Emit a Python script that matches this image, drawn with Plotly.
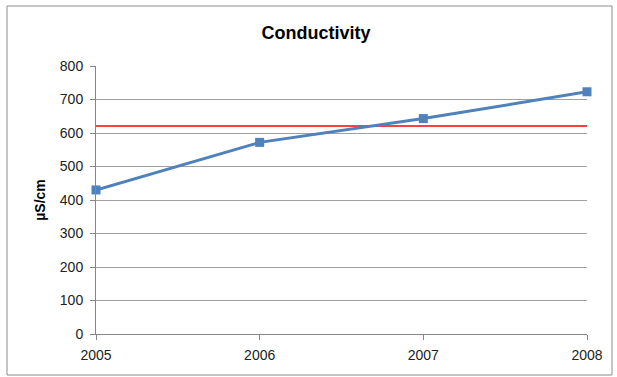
import plotly.graph_objects as go

years = [2005, 2006, 2007, 2008]
conductivity = [430, 572, 643, 723]
limit_years = [2005, 2008]
limit_values = [621, 621]
y_ticks = [0, 100, 200, 300, 400, 500, 600, 700, 800]

W, H = 617, 377
L, R, T, B = 96, 30, 66, 43
pw, ph = W - L - R, H - T - B

font = "Liberation Sans, Arial, sans-serif"

fig = go.Figure()
fig.add_trace(go.Scatter(
    x=limit_years, y=limit_values, mode="lines",
    line=dict(color="#FF0000", width=1.6),
    hoverinfo="skip", showlegend=False, cliponaxis=False,
))
fig.add_trace(go.Scatter(
    x=years, y=conductivity, mode="lines+markers",
    line=dict(color="#4F81BD", width=3),
    marker=dict(symbol="square", size=9, color="#4F81BD"),
    showlegend=False, cliponaxis=False,
))

# outer frame around the whole chart
def px_x(x):
    return (x - L) / pw

def px_y(y):
    return (H - B - y) / ph

fig.add_shape(type="rect", xref="paper", yref="paper",
              x0=px_x(7), x1=px_x(612), y0=px_y(375), y1=px_y(6),
              line=dict(color="#8C8C8C", width=1), layer="below")

fig.update_layout(
    width=W, height=H,
    margin=dict(l=L, r=R, t=T, b=B),
    paper_bgcolor="white", plot_bgcolor="white",
    title=dict(text="<b>Conductivity</b>", x=(316) / W, xanchor="center",
               y=1 - 33 / H, yanchor="middle",
               font=dict(family=font, size=18, color="black")),
    font=dict(family=font, size=14, color="black"),
)
fig.update_xaxes(
    range=[2005, 2008], tickmode="array", tickvals=years,
    ticktext=[str(y) for y in years],
    showgrid=False, zeroline=False,
    showline=True, linecolor="#868686", linewidth=1,
    ticks="outside", ticklen=5, tickcolor="#868686",
    tickfont=dict(family=font, size=14, color="#222222"),
    ticklabelstandoff=3,
)
fig.update_yaxes(
    range=[0, 800], tickmode="array", tickvals=y_ticks,
    showgrid=True, gridcolor="#A0A0A0", gridwidth=1, zeroline=False,
    showline=True, linecolor="#868686", linewidth=1,
    ticks="outside", ticklen=5, tickcolor="#868686",
    tickfont=dict(family=font, size=14, color="#222222"),
    ticklabelstandoff=4,
    title=dict(text="<b>µS/cm</b>", font=dict(family=font, size=14), standoff=10),
)

fig.write_html("out.html")
